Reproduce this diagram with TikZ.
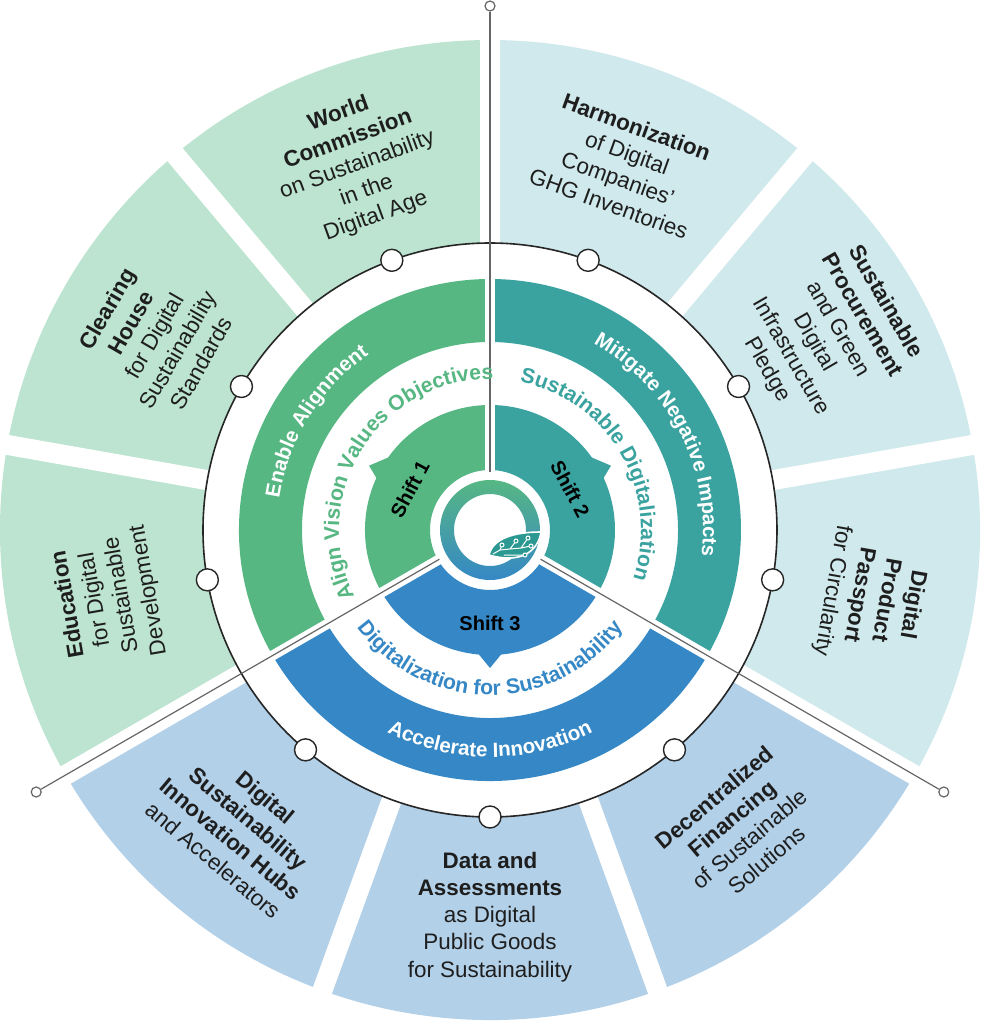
\documentclass[tikz,border=0pt]{standalone}
\usepackage{fontspec}
\setmainfont{Liberation Sans}
\usetikzlibrary{decorations.text}
\definecolor{greenD}{RGB}{87,183,131}
\definecolor{tealD}{RGB}{58,163,160}
\definecolor{blueD}{RGB}{53,136,197}
\definecolor{greenL}{RGB}{188,228,208}
\definecolor{tealL}{RGB}{208,233,236}
\definecolor{blueL}{RGB}{178,208,232}
\definecolor{leafC}{RGB}{44,152,146}
\definecolor{ink}{RGB}{30,30,30}
\newcommand{\annseg}[5]{\fill[#5] (#1:#3) arc[start angle=#1, end angle=#2, radius=#3] -- (#2:#4) arc[start angle=#2, end angle=#1, radius=#4] -- cycle;}
\newcommand{\bandfont}{\fontsize{10.3}{12}\selectfont\bfseries}
\newcommand{\ringfont}{\fontsize{10.6}{12}\selectfont\bfseries}
\begin{document}
\begin{tikzpicture}[x=0.5pt,y=0.5pt,
  spoke/.style={draw=black!60, line width=0.6pt},
  enddot/.style={circle, draw=black!60, fill=white, line width=0.6pt, inner sep=0pt, minimum size=5pt},
  marker/.style={circle, draw=black!85, fill=white, line width=0.7pt, inner sep=0pt, minimum size=11pt},
  petal/.style={align=center, text=ink, font=\fontsize{11.2}{13.6}\selectfont},
  shiftlbl/.style={text=black, font=\fontsize{10}{12}\selectfont\bfseries},
  arctext/.style={decorate, decoration={text along path, text align=center, text={#1}}}]
\useasboundingbox (-490,-494) rectangle (495,530);
\fill[greenL] (0,0) -- (90:490) arc[start angle=90, end angle=210, radius=490] -- cycle;
\fill[blueL] (0,0) -- (210:490) arc[start angle=210, end angle=330, radius=490] -- cycle;
\fill[tealL] (0,0) -- (-30:490) arc[start angle=-30, end angle=90, radius=490] -- cycle;
\foreach \a in {10,50,90,130,170,210,250,290,330}
  \draw[white, line width=10pt] (0,0) -- (\a:500);
\draw[draw=black!85, line width=0.8pt, fill=white] (0,0) circle (287);
\annseg{90}{210}{188}{251}{greenD}
\annseg{-30}{90}{188}{251}{tealD}
\annseg{210}{330}{188}{251}{blueD}
\annseg{90}{210}{60}{125}{greenD}
\annseg{-30}{90}{60}{125}{tealD}
\annseg{210}{330}{60}{125}{blueD}
\fill[greenD] (143:123) -- (152:137) -- (156:123) -- cycle;
\fill[tealD] (24:123) -- (28:137) -- (37:123) -- cycle;
\fill[blueD] (264:123) -- (270:138) -- (276:123) -- cycle;
\foreach \a in {90,210,330}
  \draw[white, line width=5pt] (0,0) -- (\a:262);
\node[circle, fill=white, inner sep=0pt, minimum size=58pt] (hub) at (0,0) {};
\node[enddot] (dtop) at (90:524) {};
\node[enddot] (dleft) at (210:524) {};
\node[enddot] (dright) at (330:524) {};
\draw[spoke] (hub) -- (dtop);
\draw[spoke] (hub) -- (dleft);
\draw[spoke] (hub) -- (dright);
\shade[top color=greenD, bottom color=blueD, even odd rule] (0,0) circle (50) circle (36);
\fill[leafC, draw=white, line width=0.8pt] (-1,-25) .. controls (3,-8) and (25,-2) .. (51,-2) .. controls (48,-22) and (30,-34) .. (-1,-25) -- cycle;
\draw[white, line width=0.5pt] (3,-24) -- (10,-20) -- (12,-15) (10,-20) -- (20,-19) -- (26,-11) (20,-19) -- (31,-18) -- (38,-8) (31,-18) -- (41,-16) (14,-25) -- (35,-25);
\foreach \p in {(12,-15),(26,-11),(38,-8),(41,-16),(35,-25)}
  \draw[white, fill=leafC, line width=0.5pt] \p circle (2);
\foreach \a [count=\i] in {110,70,30,-10,-50,-90,230,190,150}
  \node[marker] (m\i) at (\a:287) {};
\path[arctext={|\bandfont\color{white}|Enable Alignment}] (192:213) arc[start angle=192, end angle=104, radius=213];
\path[arctext={|\bandfont\color{white}|Mitigate Negative Impacts}] (76:213) arc[start angle=76, end angle=-22, radius=213];
\path[arctext={|\bandfont\color{white}|Accelerate Innovation}] (225:227) arc[start angle=225, end angle=315, radius=227];
\path[arctext={|\ringfont\color{greenD}|Align Vision Values Objectives}] (215:151) arc[start angle=215, end angle=80, radius=151];
\path[arctext={|\ringfont\color{tealD}|Sustainable Digitalization}] (100:151) arc[start angle=100, end angle=-40, radius=151];
\path[arctext={|\ringfont\color{blueD}|Digitalization for Sustainability}] (200:165) arc[start angle=200, end angle=340, radius=165];
\node[shiftlbl, rotate=62] (s1) at (153:90) {Shift 1};
\node[shiftlbl, rotate=-62] (s2) at (27:90) {Shift 2};
\node[shiftlbl] (s3) at (270:93) {Shift 3};
\node[petal, rotate=20] (wc) at (110:388) {\textbf{World}\\\textbf{Commission}\\on Sustainability\\in the\\Digital Age};
\node[petal, rotate=-20] (harm) at (70:388) {\textbf{Harmonization}\\of Digital\\Companies'\\GHG Inventories};
\node[petal, rotate=-60] (proc) at (30:388) {\textbf{Sustainable}\\\textbf{Procurement}\\and Green\\Digital\\Infrastructure\\Pledge};
\node[petal, rotate=-100] (dpp) at (-10:388) {\textbf{Digital}\\\textbf{Product}\\\textbf{Passport}\\for Circularity};
\node[petal, rotate=40] (fin) at (-50:390) {\textbf{Decentralized}\\\textbf{Financing}\\of Sustainable\\Solutions};
\node[petal] (data) at (270:387) {\textbf{Data and}\\\textbf{Assessments}\\as Digital\\Public Goods\\for Sustainability};
\node[petal, rotate=-40] (hubs) at (230:390) {\textbf{Digital}\\\textbf{Sustainability}\\\textbf{Innovation Hubs}\\and Accelerators};
\node[petal, rotate=100] (edu) at (190:387) {\textbf{Education}\\for Digital\\Sustainable\\Development};
\node[petal, rotate=60] (clear) at (150:388) {\textbf{Clearing}\\\textbf{House}\\for Digital\\Sustainability\\Standards};
\end{tikzpicture}
\end{document}
